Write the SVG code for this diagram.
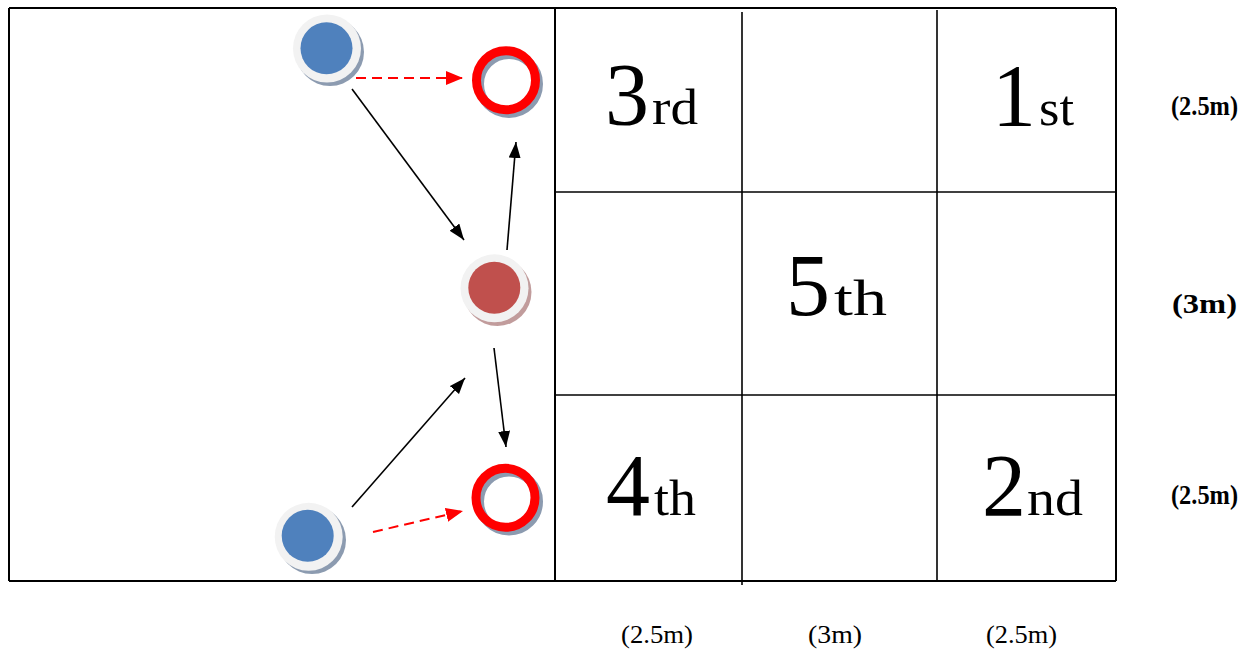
<svg xmlns="http://www.w3.org/2000/svg" width="1251" height="650" viewBox="0 0 1251 650">
<style>
.grid{stroke:#000;stroke-width:2;fill:none}
.thin{stroke:#000;stroke-width:1.6;fill:none}
.ringbg{fill:#f2f2f2}
.shb{fill:#8c9bb0}
.shr{fill:#c19c9c}
.blue{fill:#4f81bd}
.redf{fill:#c0504d}
.ring{fill:none;stroke:#ff0000;stroke-width:9}
.ringsh{fill:none;stroke:#8c9bb0;stroke-width:9}
.blk{stroke:#000;stroke-width:1.6;fill:none}
.dash{stroke:#ff0000;stroke-width:2;stroke-dasharray:10 6;fill:none}
.big{font-family:"Liberation Serif","Times New Roman",serif;font-size:88px;fill:#000}
.sub{font-family:"Liberation Serif","Times New Roman",serif;font-size:50px;fill:#000}
.dim{font-family:"Liberation Serif","Times New Roman",serif;font-size:25px;fill:#000}
.dimb{font-family:"Liberation Serif","Times New Roman",serif;font-size:27px;font-weight:bold;fill:#000}
</style>
<defs>
<marker id="ab" markerUnits="userSpaceOnUse" markerWidth="18" markerHeight="14" refX="16" refY="6" orient="auto"><path d="M0,0 L16,6 L0,12 Z" fill="#000"/></marker>
<marker id="ar" markerUnits="userSpaceOnUse" markerWidth="18" markerHeight="16" refX="17" refY="7" orient="auto"><path d="M0,0 L17,7 L0,14 Z" fill="#ff0000"/></marker>
</defs>
<rect width="1251" height="650" fill="#fff"/>
<g id="field">
<line class="grid" x1="9" y1="8" x2="1116" y2="8"/>
<line class="grid" x1="9" y1="581" x2="1116" y2="581"/>
<line class="grid" x1="9" y1="8" x2="9" y2="581"/>
<line class="grid" x1="1116" y1="8" x2="1116" y2="581"/>
<line class="grid" x1="555" y1="8" x2="555" y2="581"/>
<line class="thin" x1="742" y1="12" x2="742" y2="585"/>
<line class="thin" x1="937" y1="10" x2="937" y2="581"/>
<line class="thin" x1="555" y1="192" x2="1116" y2="192"/>
<line class="thin" x1="555" y1="395" x2="1116" y2="395"/>
</g>
<g id="zone-3rd"><text class="big" x="605" y="124">3</text><text class="sub" x="652" y="124" textLength="46" lengthAdjust="spacingAndGlyphs">rd</text></g>
<g id="zone-1st"><text class="big" x="992" y="125">1</text><text class="sub" x="1039" y="125" textLength="35" lengthAdjust="spacingAndGlyphs">st</text></g>
<g id="zone-5th"><text class="big" x="786" y="315">5</text><text class="sub" x="834" y="315" textLength="53" lengthAdjust="spacingAndGlyphs">th</text></g>
<g id="zone-4th"><text class="big" x="606" y="515">4</text><text class="sub" x="654" y="515" textLength="42" lengthAdjust="spacingAndGlyphs">th</text></g>
<g id="zone-2nd"><text class="big" x="982" y="515">2</text><text class="sub" x="1027" y="515" textLength="56" lengthAdjust="spacingAndGlyphs">nd</text></g>
<g id="dims">
<text class="dimb" x="1171" y="115" textLength="67" lengthAdjust="spacingAndGlyphs">(2.5m)</text>
<text class="dimb" x="1172" y="313" textLength="65" lengthAdjust="spacingAndGlyphs">(3m)</text>
<text class="dimb" x="1171" y="504" textLength="67" lengthAdjust="spacingAndGlyphs">(2.5m)</text>
<text class="dim" x="621" y="643" textLength="72" lengthAdjust="spacingAndGlyphs">(2.5m)</text>
<text class="dim" x="808" y="643" textLength="54" lengthAdjust="spacingAndGlyphs">(3m)</text>
<text class="dim" x="986" y="643" textLength="71" lengthAdjust="spacingAndGlyphs">(2.5m)</text>
</g>
<g id="connectors">
<line class="dash" x1="356" y1="78" x2="463" y2="78" marker-end="url(#ar)"/>
<line class="dash" x1="373" y1="532" x2="463" y2="511" marker-end="url(#ar)"/>
<line class="blk" x1="352" y1="89" x2="464" y2="240" marker-end="url(#ab)"/>
<line class="blk" x1="507" y1="250" x2="516" y2="142" marker-end="url(#ab)"/>
<line class="blk" x1="494" y1="348" x2="506" y2="447" marker-end="url(#ab)"/>
<line class="blk" x1="352" y1="507" x2="465" y2="378" marker-end="url(#ab)"/>
</g>
<g id="player-top">
<circle class="shb" cx="330" cy="52" r="34"/>
<circle class="ringbg" cx="327" cy="48.5" r="34"/>
<circle class="blue" cx="326.5" cy="48.3" r="26"/>
</g>
<g id="player-bottom">
<circle class="shb" cx="312" cy="540" r="34"/>
<circle class="ringbg" cx="308.7" cy="536.8" r="34"/>
<circle class="blue" cx="307.7" cy="535.8" r="26"/>
</g>
<g id="player-middle">
<circle class="shr" cx="497.5" cy="292" r="34"/>
<circle class="ringbg" cx="494.5" cy="288.3" r="34"/>
<circle class="redf" cx="494.3" cy="287.7" r="26"/>
</g>
<g id="target-top">
<circle class="ringsh" cx="509" cy="84" r="29.5"/>
<circle class="ring" cx="506" cy="80.3" r="29.5"/>
</g>
<g id="target-bottom">
<circle class="ringsh" cx="509" cy="501.5" r="29.5"/>
<circle class="ring" cx="505.5" cy="497.8" r="29.5"/>
</g>
</svg>
